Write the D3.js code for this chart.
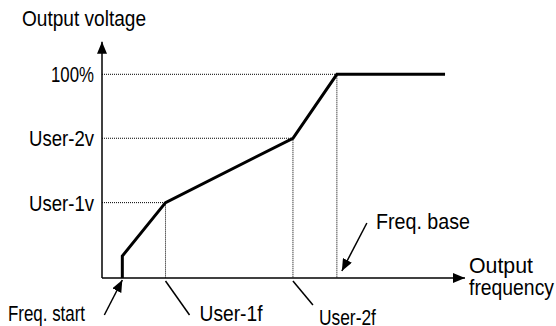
<!DOCTYPE html>
<html><head><meta charset="utf-8">
<script src="https://cdn.jsdelivr.net/npm/d3@7"></script>
<style>
html,body{margin:0;padding:0;background:#fff;}
text{font-family:"Liberation Sans",Arial,sans-serif;font-size:22px;fill:#000;}
</style></head>
<body><svg id="c" width="556" height="326"></svg>
<script>
// Data (arbitrary units)
const curveFreq    = [5.6, 5.6, 17.5, 52.6, 64.7, 94.5];
const curveVolt    = [0, 10.8, 37, 68.6, 100, 100];
const voltLabels   = ["User-1v", "User-2v", "100%"];
const voltLevels   = [37, 68.6, 100];
const freqLabels   = ["Freq. start", "User-1f", "User-2f", "Freq. base"];
const freqLevels   = [5.6, 17.5, 52.6, 64.7];
const guideVolt    = [37, 68.6, 100];     // voltage of each dotted guide
const guideFreq    = [17.5, 52.6, 64.7];  // frequency of each dotted guide

// label widths (style: condensed text as in the picture)
const wVolt = [65, 65, 43];
const wFreq = [77, 63, 57, 94];

const svg = d3.select("#c");
const x = d3.scaleLinear().domain([0, 100]).range([102, 465]);
const y = d3.scaleLinear().domain([0, 100]).range([278, 74.3]);

function label(xp, yp, t, w, anchor) {
  return svg.append("text").attr("x", xp).attr("y", yp)
    .attr("text-anchor", anchor || "start")
    .attr("textLength", w).attr("lengthAdjust", "spacingAndGlyphs").text(t);
}

svg.append("defs").append("marker")
  .attr("id","ah").attr("viewBox","0 0 12 10").attr("refX",12).attr("refY",5)
  .attr("markerWidth",12).attr("markerHeight",10).attr("markerUnits","userSpaceOnUse")
  .attr("orient","auto")
  .append("path").attr("d","M0,0 L12,5 L0,10 Z").attr("fill","#000");

// dotted guides
guideVolt.forEach((v,i)=>{
  svg.append("line").attr("x1",x(0)).attr("x2",x(guideFreq[i])).attr("y1",y(v)).attr("y2",y(v))
    .attr("stroke","#000").attr("stroke-width",1).attr("stroke-dasharray","1,1");
  svg.append("line").attr("x1",x(guideFreq[i])).attr("x2",x(guideFreq[i])).attr("y1",y(v)).attr("y2",y(0))
    .attr("stroke","#000").attr("stroke-width",1).attr("stroke-dasharray","1,1");
});

// axes
svg.append("line").attr("x1",x(0)).attr("y1",y(0)).attr("x2",x(0)).attr("y2",y(116))
  .attr("stroke","#000").attr("stroke-width",1.5).attr("marker-end","url(#ah)");
svg.append("line").attr("x1",x(0)).attr("y1",y(0)).attr("x2",x(100)).attr("y2",y(0))
  .attr("stroke","#000").attr("stroke-width",1.5).attr("marker-end","url(#ah)");

// curve
const pts = curveFreq.map((f,i)=>[x(f), y(curveVolt[i])]);
svg.append("path").attr("d", d3.line()(pts)).attr("fill","none")
  .attr("stroke","#000").attr("stroke-width",3).attr("stroke-linejoin","miter");

// axis titles
label(22, 26, "Output voltage", 124);
label(469, 273, "Output", 64);
label(469, 295, "frequency", 85);

// voltage tick labels
voltLabels.forEach((t,i)=>{
  const w = wVolt[i];
  label(x(0)-8-w, y(voltLevels[i])+8, t, w);
});

// Freq. start (arrow pointing at axis)
svg.append("line").attr("x1",x(freqLevels[0])-18).attr("y1",315).attr("x2",x(freqLevels[0])).attr("y2",y(0)+2)
  .attr("stroke","#000").attr("stroke-width",1.5).attr("marker-end","url(#ah)");
label(8, 321, freqLabels[0], wFreq[0]);
// User-1f
svg.append("line").attr("x1",x(freqLevels[1])).attr("y1",y(0)+3).attr("x2",x(freqLevels[1])+24).attr("y2",315)
  .attr("stroke","#000").attr("stroke-width",1.5);
label(x(freqLevels[1])+34, 321, freqLabels[1], wFreq[1]);
// User-2f
svg.append("line").attr("x1",x(freqLevels[2])).attr("y1",y(0)+3).attr("x2",x(freqLevels[2])+20).attr("y2",305)
  .attr("stroke","#000").attr("stroke-width",1.5);
label(x(freqLevels[2])+26, 325, freqLabels[2], wFreq[2]);
// Freq. base (arrow)
svg.append("line").attr("x1",x(freqLevels[3])+30).attr("y1",223).attr("x2",x(freqLevels[3])+5).attr("y2",271)
  .attr("stroke","#000").attr("stroke-width",1.5).attr("marker-end","url(#ah)");
label(376, 229, freqLabels[3], wFreq[3]);
</script></body></html>
